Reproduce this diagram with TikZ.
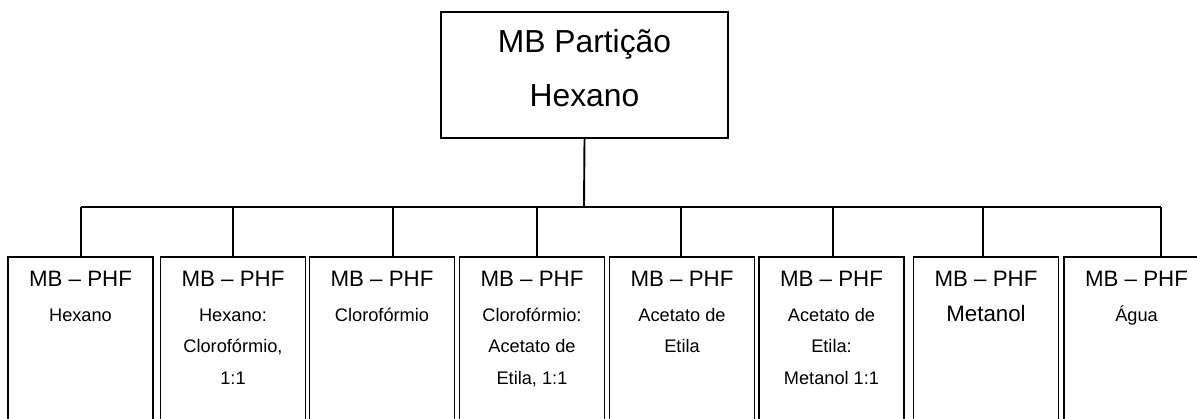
\documentclass[tikz,border=0pt]{standalone}
\usepackage{fontspec}
\setmainfont{Liberation Sans}
\tikzset{
  rootbox/.style={draw, line width=1.9pt, minimum width=287pt,
    minimum height=126pt, inner sep=0pt},
  childbox/.style={draw, line width=1.9pt, minimum width=145pt,
    minimum height=200pt, anchor=north, inner sep=0pt},
  headtext/.style={anchor=base, inner sep=0pt,
    font=\fontsize{22.3}{25}\selectfont},
  bodytext/.style={anchor=north, inner sep=0pt, align=center,
    font=\fontsize{18.2}{31.7}\selectfont},
  link/.style={line width=1.9pt},
}

\begin{document}
\begin{tikzpicture}[x=1pt,y=-1pt]
	% page frame: the lower boxes run off the bottom and right edges
	\useasboundingbox (0,0) rectangle (1197,418);
	\clip (0,0) rectangle (1197,418);

	% Root of the tree
	\node[rootbox] (root) at (584.5,75) {};
	\node[anchor=north, inner sep=0pt, align=center,
	font=\fontsize{31.8}{54}\selectfont] (rootlabel) at (584.5,14.2)
	{\strut MB Partição\\Hexano};

	% The eight fractions, each with its own stem point
	\foreach \i/\cx/\sx/\body in {
		1/80.5/81/{Hexano},
		2/233/233/{Hexano:\\Clorofórmio,\\1:1},
		3/382/393/{Clorofórmio},
		4/532/537/{Clorofórmio:\\Acetato de\\Etila, 1:1},
		5/682/681/{Acetato de\\Etila},
		6/831.5/833/{Acetato de\\Etila:\\Metanol 1:1},
		7/986/983/{\fontsize{22.3}{31.7}\selectfont Metanol},
		8/1136.5/1161/{Água}} {
		\node[childbox] (b\i) at (\cx,256) {};
		\node[headtext] (h\i) at (\cx,286) {MB – PHF};
		\node[bodytext] (t\i) at (\cx,298.8) {\strut\body};
		\coordinate (s\i) at (\sx,256);
	}

	% Connectors: root stem, bus and one stem per fraction
	\coordinate (bus) at (584,207);
	\draw[link] (root.south) -- (bus);
	\draw[link] (s1 |- bus) -- (s8 |- bus);
	\foreach \i in {1,...,8}
		\draw[link] (s\i) -- (s\i |- bus);
\end{tikzpicture}
\end{document}
